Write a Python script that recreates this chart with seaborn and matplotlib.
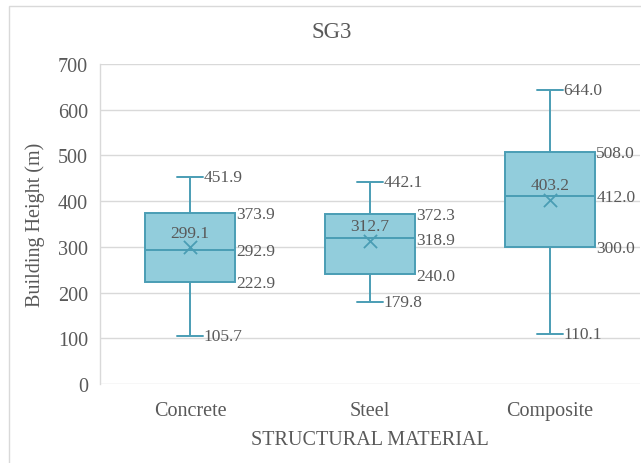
import matplotlib
matplotlib.use("Agg")
import matplotlib.pyplot as plt
from matplotlib.patches import Rectangle
import pandas as pd
import seaborn as sns

# Summary statistics of building height per structural material
materials = ["Concrete", "Steel", "Composite"]
minimum = [105.7, 179.8, 110.1]
q1 = [222.9, 240.0, 300.0]
median = [292.9, 318.9, 412.0]
q3 = [373.9, 372.3, 508.0]
maximum = [451.9, 442.1, 644.0]
mean = [299.1, 312.7, 403.2]
y_ticks = [0, 100, 200, 300, 400, 500, 600, 700]

FILL = "#92CDDC"
EDGE = "#4A9DB4"
TEXT = "#595959"
GRID = "#D9D9D9"

sns.set_style("white")
plt.rcParams["font.family"] = ["Liberation Serif", "DejaVu Serif"]

# Five-number rows: quartiles of these five points reproduce the box exactly
rows = []
for m, a, b, c, d, e in zip(materials, minimum, q1, median, q3, maximum):
    for v in (a, b, c, d, e):
        rows.append({"material": m, "height": v})
df = pd.DataFrame(rows)
means_df = pd.DataFrame({"material": materials, "mean": mean})

W, H = 641, 464
fig = plt.figure(figsize=(W / 100, H / 100), dpi=100)
ax = fig.add_axes([100 / W, (H - 385) / H, 540 / W, 320 / H])

sns.boxplot(
    data=df, x="material", y="height", order=materials, ax=ax,
    whis=(0, 100), width=0.5, color=FILL, linecolor=EDGE, linewidth=1.4,
    saturation=1, showfliers=False, capwidths=0.14,
)
sns.scatterplot(
    data=means_df, x="material", y="mean", ax=ax, marker="x", s=90,
    color=EDGE, linewidth=1.3, zorder=5, legend=False,
)

# Value labels
fs = 12.5
for i in range(len(materials)):
    for v in (minimum[i], maximum[i]):
        ax.annotate(f"{v:.1f}", (i + 0.07, v), xytext=(0.5, 0),
                    textcoords="offset points", ha="left", va="center",
                    fontsize=fs, color=TEXT)
    for v in (q1[i], median[i], q3[i]):
        ax.annotate(f"{v:.1f}", (i + 0.25, v), xytext=(1, -1),
                    textcoords="offset points", ha="left", va="center",
                    fontsize=fs, color=TEXT)
    ax.annotate(f"{mean[i]:.1f}", (i, mean[i]), xytext=(0, 10.5),
                textcoords="offset points", ha="center", va="center",
                fontsize=fs, color=TEXT)

ax.set_xlim(-0.5, 2.5)
ax.set_ylim(0, 700)
ax.set_yticks(y_ticks)
ax.yaxis.grid(True, color=GRID, linewidth=1)
ax.set_axisbelow(True)
for s in ("top", "right", "bottom"):
    ax.spines[s].set_visible(False)
ax.spines["left"].set_color(GRID)
ax.spines["left"].set_linewidth(1)
ax.tick_params(axis="both", length=0, labelsize=14.5, labelcolor=TEXT)
ax.tick_params(axis="y", pad=8.5)
ax.tick_params(axis="x", pad=12.5)

ax.set_xlabel("STRUCTURAL MATERIAL", fontsize=14.5, color=TEXT)
ax.xaxis.set_label_coords(0.5, -(431 - 385) / 320)
ax.set_ylabel("Building Height (m)", fontsize=14.5, color=TEXT)
ax.yaxis.set_label_coords((45 - 100) / 540, 0.5)
fig.text(332 / W, 1 - 32 / H, "SG3", ha="center", va="center",
         fontsize=16.5, color=TEXT)

# Chart area border
fig.patches.append(Rectangle((9 / W, -0.1), 2, (H - 7) / H + 0.1,
                             transform=fig.transFigure, fill=False,
                             edgecolor=GRID, linewidth=1))

fig.savefig("out.png", dpi=100)
